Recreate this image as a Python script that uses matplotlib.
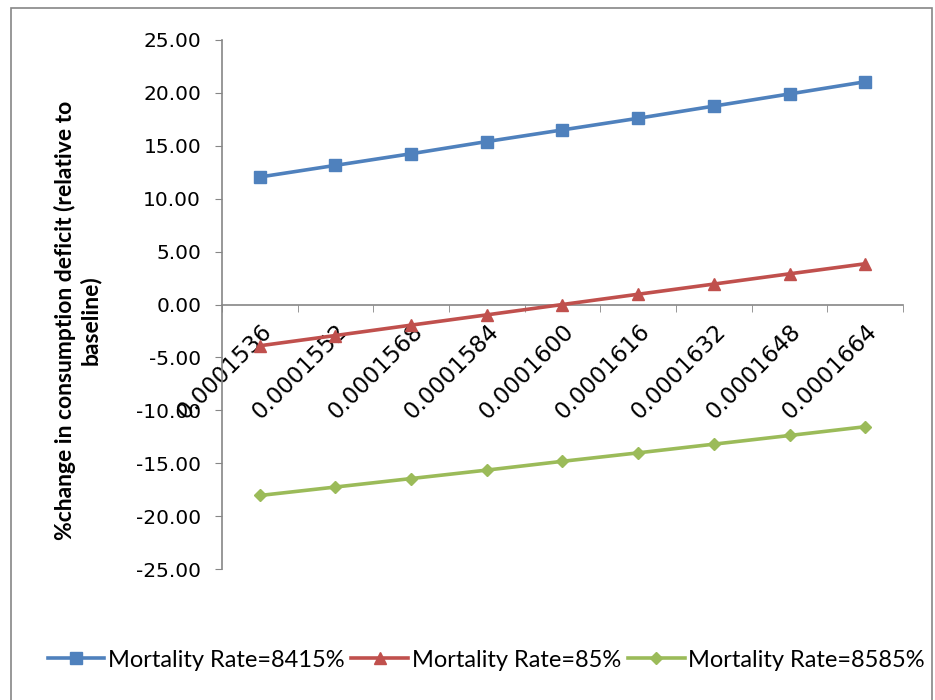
import matplotlib
matplotlib.use("Agg")
import matplotlib.pyplot as plt
from matplotlib.lines import Line2D
from matplotlib.patches import Rectangle

# sensitivity of consumption deficit to the mortality parameter
rates = ["0.0001536", "0.0001552", "0.0001568", "0.0001584", "0.0001600",
         "0.0001616", "0.0001632", "0.0001648", "0.0001664"]
mort_8415 = [12.05, 13.15, 14.25, 15.4, 16.5, 17.6, 18.75, 19.9, 21.05]
mort_85 = [-3.9, -2.93, -1.95, -0.98, 0.0, 0.97, 1.93, 2.9, 3.85]
mort_8585 = [-18.05, -17.25, -16.45, -15.65, -14.82, -14.02, -13.2, -12.38, -11.55]
series_labels = ["Mortality Rate=8415%", "Mortality Rate=85%", "Mortality Rate=8585%"]
yticks = [-25, -20, -15, -10, -5, 0, 5, 10, 15, 20, 25]

BLUE, RED, GREEN = "#4F81BD", "#C0504D", "#9BBB59"
GREY = "#868686"

fig = plt.figure(figsize=(9.35, 7.0), dpi=100)
ax = fig.add_axes([0.2374, 0.1871, 0.7284, 0.7558])

x = list(range(len(rates)))
ax.plot(x, mort_8415, color=BLUE, lw=2.6, marker="s", ms=8, zorder=3)
ax.plot(x, mort_85, color=RED, lw=2.6, marker="^", ms=8, zorder=3)
ax.plot(x, mort_8585, color=GREEN, lw=2.6, marker="D", ms=6, zorder=3)

ax.set_xlim(-0.5, len(rates) - 0.5)
ax.set_ylim(-25, 25)
ax.set_yticks(yticks)
ax.set_yticklabels([f"{v:.2f}" for v in yticks], fontsize=14.5, family="DejaVu Sans")

ax.spines["top"].set_visible(False)
ax.spines["right"].set_visible(False)
ax.spines["bottom"].set_position(("data", 0))
for s in ("left", "bottom"):
    ax.spines[s].set_color(GREY)
    ax.spines[s].set_linewidth(1.2)

ax.set_xticks(x)
ax.set_xticks([k - 0.5 for k in range(len(rates) + 1)], minor=True)
ax.tick_params(axis="x", which="major", length=0, pad=11)
ax.tick_params(axis="x", which="minor", length=5, color=GREY, direction="out")
ax.tick_params(axis="y", length=5, color=GREY, direction="out", pad=10)
ax.set_xticklabels(rates, rotation=45, ha="right", va="top",
                   rotation_mode="anchor", fontsize=16.5, family="DejaVu Sans")
for lab in ax.get_xticklabels():
    lab.set_x(lab.get_position()[0] + 0.04)

fig.text(0.083, 0.543, "%change in consumption deficit (relative to\nbaseline)",
         rotation=90, ha="center", va="center", multialignment="center",
         fontsize=16.5, fontweight="bold", family=["Lato", "DejaVu Sans"])

handles = [
    Line2D([], [], color=BLUE, lw=2.6, marker="s", ms=8),
    Line2D([], [], color=RED, lw=2.6, marker="^", ms=8),
    Line2D([], [], color=GREEN, lw=2.6, marker="D", ms=6),
]
fig.legend(handles, series_labels, loc="center", bbox_to_anchor=(0.52, 0.057),
           ncol=3, frameon=False, handlelength=2.4, handletextpad=0.15,
           columnspacing=0.3, borderpad=0.1,
           prop={"family": ["Lato", "DejaVu Sans"], "size": 17})

fig.patches.append(Rectangle((11 / 935, -0.02), 921 / 935, 1.02 - 8 / 700,
                             transform=fig.transFigure, fill=False,
                             edgecolor=GREY, lw=1.2))

fig.savefig("out.png", dpi=100)
